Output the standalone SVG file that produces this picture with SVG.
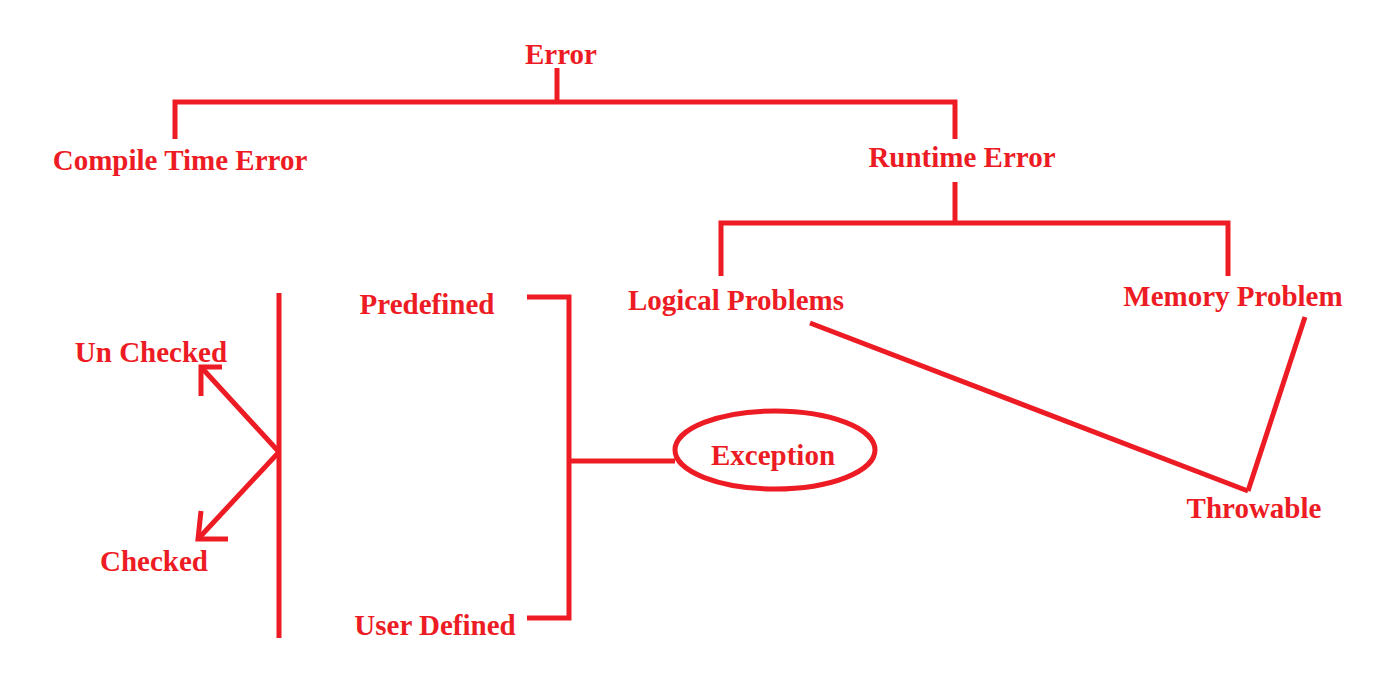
<svg xmlns="http://www.w3.org/2000/svg" width="1381" height="687" viewBox="0 0 1381 687">
<style>
.t{font-family:"Liberation Serif","Times New Roman",serif;font-weight:bold;font-size:29px;fill:#ed1c24}
.l{stroke:#ed1c24;stroke-width:5;fill:none;stroke-linejoin:miter}
</style>
<rect width="1381" height="687" fill="#ffffff"/>
<g id="connectors">
<polyline class="l" points="557,68 557,102"/>
<polyline class="l" points="175,139 175,102 955,102 955,139"/>
<polyline class="l" points="955,182 955,223"/>
<polyline class="l" points="721,276 721,223 1228,223 1228,276"/>
<line class="l" x1="810" y1="323" x2="1248" y2="491"/>
<line class="l" x1="1305" y1="317" x2="1248" y2="491"/>
<polyline class="l" points="527,297 569,297 569,618 527,618"/>
<line class="l" x1="569" y1="461" x2="675" y2="461"/>
<line class="l" x1="279" y1="293" x2="279" y2="638"/>
<line class="l" x1="279" y1="452" x2="201" y2="367"/>
<polyline class="l" points="222,367 201,367 201,396"/>
<line class="l" x1="279" y1="452" x2="198" y2="539"/>
<polyline class="l" points="201,511 198,539 228,539"/>
</g>
<g id="error"><text class="t" x="561" y="64" text-anchor="middle">Error</text></g>
<g id="compile"><text class="t" x="180" y="170" text-anchor="middle">Compile Time Error</text></g>
<g id="runtime"><text class="t" x="962" y="167" text-anchor="middle">Runtime Error</text></g>
<g id="logical"><text class="t" x="736" y="310" text-anchor="middle">Logical Problems</text></g>
<g id="memory"><text class="t" x="1233" y="306" text-anchor="middle">Memory Problem</text></g>
<g id="throwable"><text class="t" x="1254" y="518" text-anchor="middle">Throwable</text></g>
<g id="exception"><ellipse class="l" cx="775" cy="450" rx="100" ry="39"/><text class="t" x="773" y="465" text-anchor="middle">Exception</text></g>
<g id="predefined"><text class="t" x="427" y="314" text-anchor="middle">Predefined</text></g>
<g id="userdefined"><text class="t" x="435" y="635" text-anchor="middle">User Defined</text></g>
<g id="unchecked"><text class="t" x="151" y="362" text-anchor="middle">Un Checked</text></g>
<g id="checked"><text class="t" x="154" y="571" text-anchor="middle">Checked</text></g>
</svg>
